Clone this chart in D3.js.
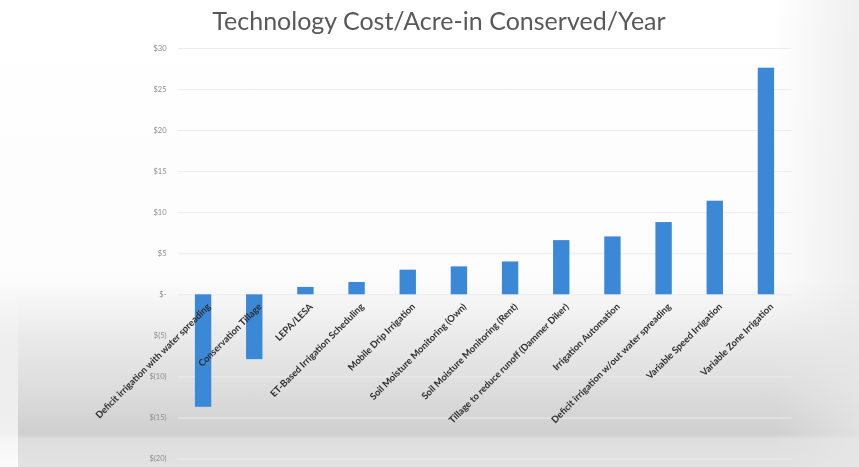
<!DOCTYPE html>
<html>
<head>
<meta charset="utf-8">
<script src="https://cdn.jsdelivr.net/npm/d3@7"></script>
<style>
  html, body { margin: 0; padding: 0; background: #ffffff; }
  svg { display: block; }
</style>
</head>
<body>
<svg id="chart" width="859" height="467"></svg>
<script>
// Cost per acre-inch of water conserved per year, by technology
const categories = [
  "Deficit irrigation with water spreading",
  "Conservation Tillage",
  "LEPA/LESA",
  "ET-Based Irrigation Scheduling",
  "Mobile Drip Irrigation",
  "Soil Moisture Monitoring (Own)",
  "Soil Moisture Monitoring (Rent)",
  "Tillage to reduce runoff (Dammer Diker)",
  "Irrigation Automation",
  "Deficit irrigation w/out water spreading",
  "Variable Speed Irrigation",
  "Variable Zone Irrigation"
];
const costs = [-13.7, -7.9, 0.9, 1.5, 3.0, 3.4, 4.0, 6.6, 7.05, 8.8, 11.4, 27.6];
const tickValues = [-20, -15, -10, -5, 0, 5, 10, 15, 20, 25, 30];
const tickLabels = ["$(20)", "$(15)", "$(10)", "$(5)", "$-", "$5", "$10", "$15", "$20", "$25", "$30"];
const title = "Technology Cost/Acre-in Conserved/Year";

const svg = d3.select("#chart");
const W = 859, H = 467;

// soft shading across the lower part of the slide
const defs = svg.append("defs");
const shade = defs.append("linearGradient").attr("id", "shade")
  .attr("x1", 0).attr("y1", 0).attr("x2", 0).attr("y2", 1);
[["0%", "#ffffff"], ["60%", "#fcfcfc"], ["72%", "#eaeaea"], ["84%", "#dcdcdc"],
 ["93%", "#cfcfcf"], ["94%", "#dedede"], ["100%", "#e2e2e2"]]
  .forEach(([o, c]) => shade.append("stop").attr("offset", o).attr("stop-color", c));
const side = defs.append("linearGradient").attr("id", "side")
  .attr("x1", 0).attr("y1", 0).attr("x2", 1).attr("y2", 0);
side.append("stop").attr("offset", "0%").attr("stop-color", "#e8e8e8").attr("stop-opacity", 0.0);
side.append("stop").attr("offset", "90%").attr("stop-color", "#e8e8e8").attr("stop-opacity", 0.0);
side.append("stop").attr("offset", "100%").attr("stop-color", "#e8e8e8").attr("stop-opacity", 0.7);
const leftEdge = defs.append("linearGradient").attr("id", "leftEdge")
  .attr("x1", 0).attr("y1", 0).attr("x2", 0).attr("y2", 1);
leftEdge.append("stop").attr("offset", "0%").attr("stop-color", "#ffffff").attr("stop-opacity", 0);
leftEdge.append("stop").attr("offset", "100%").attr("stop-color", "#ffffff").attr("stop-opacity", 0.85);
defs.append("filter").attr("id", "soft")
  .append("feGaussianBlur").attr("stdDeviation", 0.6);

svg.append("rect").attr("width", W).attr("height", H).attr("fill", "url(#shade)");
svg.append("rect").attr("width", W).attr("height", H).attr("fill", "url(#side)");
svg.append("rect").attr("x", 0).attr("y", 280).attr("width", 18).attr("height", H - 280)
  .attr("fill", "url(#leftEdge)");

const x = d3.scaleBand().domain(categories).range([177.5, 791.5])
  .paddingInner(0.68).paddingOuter(0.34);
const y = d3.scaleLinear().domain([-20, 30]).range([458.5, 48]);

const g = svg.append("g").attr("filter", "url(#soft)");

// horizontal gridlines + value labels
const yAxis = d3.axisLeft(y)
  .tickValues(tickValues)
  .tickSize(-(791.5 - 177.5))
  .tickPadding(11)
  .tickFormat((d, i) => tickLabels[i]);
const ya = g.append("g").attr("transform", "translate(177.5,0)").call(yAxis);
ya.select(".domain").remove();
ya.selectAll(".tick line").attr("stroke", "#ececec").attr("stroke-width", 1);
ya.selectAll(".tick text")
  .attr("fill", "#8c8c8c")
  .style("font-family", "Lato, 'Open Sans', sans-serif")
  .style("font-size", "7.5px");

// bars
g.append("g").selectAll("rect")
  .data(costs)
  .join("rect")
  .attr("x", (d, i) => x(categories[i]))
  .attr("width", x.bandwidth())
  .attr("y", d => y(Math.max(0, d)))
  .attr("height", d => Math.abs(y(d) - y(0)))
  .attr("fill", "#3a88d7");

// category labels, slanted, hanging from the zero line
const xAxis = d3.axisBottom(x).tickSize(0).tickPadding(0);
const xa = g.append("g").attr("transform", `translate(0,${y(0)})`).call(xAxis);
xa.select(".domain").remove();
xa.selectAll(".tick text")
  .attr("text-anchor", "end")
  .attr("dy", 0)
  .attr("transform", "translate(8,13) rotate(-45)")
  .attr("fill", "#2e2e2e")
  .style("font-family", "Lato, 'Open Sans', sans-serif")
  .style("font-size", "9.4px")
  .style("font-weight", "bold");

// title
g.append("text")
  .attr("x", 439).attr("y", 30)
  .attr("text-anchor", "middle")
  .attr("fill", "#595959")
  .style("font-family", "Lato, 'Open Sans', sans-serif")
  .style("font-size", "25px")
  .text(title);
</script>
</body>
</html>
